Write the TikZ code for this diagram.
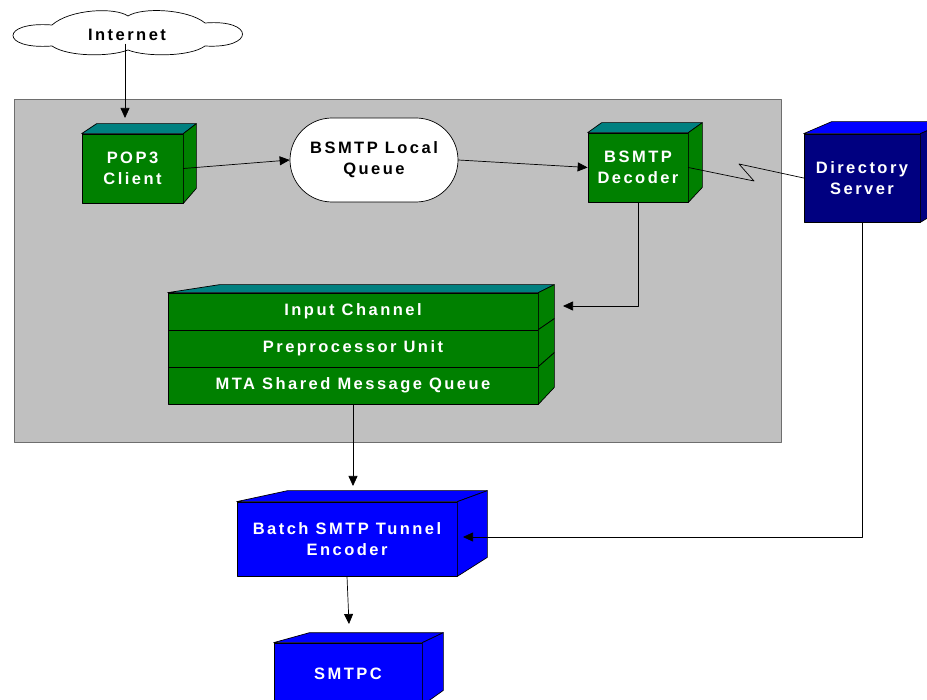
\documentclass[tikz,border=0pt]{standalone}
\usepackage{fontspec}
\usetikzlibrary{arrows.meta,shapes.misc}
\newfontfamily\labfont[LetterSpace=15]{Liberation Sans}
\definecolor{dgreen}{RGB}{0,128,0}
\definecolor{tealtop}{RGB}{0,128,128}
\definecolor{navy}{RGB}{0,0,128}
\definecolor{pureblue}{RGB}{0,0,255}
\definecolor{panelgray}{RGB}{192,192,192}
\definecolor{paneledge}{RGB}{110,110,110}
\tikzset{
	front/.style={draw=black,line width=0.7pt,inner sep=0pt,align=center,text=white,
		font=\labfont\bfseries\fontsize{16.5}{21}\selectfont},
	face/.style={draw=black,line width=0.7pt},
	arr/.style={-{Triangle[length=10pt,width=9pt]},line width=0.7pt}
}
\begin{document}
\begin{tikzpicture}[x=1pt,y=-1pt,line join=round,line cap=round]
	\useasboundingbox (0,0) rectangle (927,700);
	\clip (0,0) rectangle (927,700);
	%Vùng xám
	\draw[fill=panelgray,draw=paneledge,line width=0.7pt] (14,99) rectangle (781,442);
	%Đám mây
	\draw[fill=white,line width=0.7pt] (52,25) .. controls (70,9) and (115,7) .. (128,16)
		.. controls (142,7) and (188,9) .. (205,23)
		.. controls (255,19) and (255,49) .. (205,46)
		.. controls (190,57) and (145,57) .. (128,50)
		.. controls (110,57) and (68,57) .. (52,46)
		.. controls (0,50) and (0,21) .. (52,25) -- cycle;
	\node[font=\labfont\bfseries\fontsize{16.5}{21}\selectfont] (inet) at (127,35) {Internet};
	%POP3 Client
	\node[front,fill=dgreen,minimum width=101pt,minimum height=69pt] (pop) at (132.5,168.5) {POP3\\Client};
	\path (pop.north west)++(15,-10) coordinate (pop1)
	(pop.north east)++(13,-10) coordinate (pop2)
	(pop.south east)++(13,-15) coordinate (pop3);
	\draw[face,fill=tealtop] (pop.north west)--(pop1)--(pop2)--(pop.north east)--cycle;
	\draw[face,fill=dgreen] (pop.north east)--(pop2)--(pop3)--(pop.south east)--cycle;
	%BSMTP Local Queue
	\node[draw=black,line width=0.7pt,fill=white,rounded rectangle,inner sep=0pt,minimum width=168pt,
		minimum height=84pt,align=center,font=\labfont\bfseries\fontsize{16.5}{21}\selectfont] (queue) at (374,160) {BSMTP Local\\Queue};
	%BSMTP Decoder
	\node[front,fill=dgreen,minimum width=100pt,minimum height=69pt] (dec) at (638,167.5) {BSMTP\\Decoder};
	\path (dec.north west)++(14,-10) coordinate (dec1)
	(dec.north east)++(14,-10) coordinate (dec2)
	(dec.south east)++(14,-15) coordinate (dec3);
	\draw[face,fill=tealtop] (dec.north west)--(dec1)--(dec2)--(dec.north east)--cycle;
	\draw[face,fill=dgreen] (dec.north east)--(dec2)--(dec3)--(dec.south east)--cycle;
	%Directory Server
	\node[front,fill=navy,minimum width=116pt,minimum height=88pt] (dir) at (862,178) {Directory\\Server};
	\path (dir.north west)++(28,-12) coordinate (dir1)
	(dir.north east)++(28,-12) coordinate (dir2)
	(dir.south east)++(28,-17) coordinate (dir3);
	\draw[face,fill=pureblue] (dir.north west)--(dir1)--(dir2)--(dir.north east)--cycle;
	\draw[face,fill=navy] (dir.north east)--(dir2)--(dir3)--(dir.south east)--cycle;
	%Khối ba tầng
	\node[front,fill=dgreen,minimum width=370pt,minimum height=37pt] (inch) at (353,311.5) {Input Channel};
	\node[front,fill=dgreen,minimum width=370pt,minimum height=37pt] (prep) at (353,348.5) {Preprocessor Unit};
	\node[front,fill=dgreen,minimum width=370pt,minimum height=37pt] (mtaq) at (353,385.5) {MTA Shared Message Queue};
	\path (inch.north west)++(52,-8) coordinate (t0)
	(inch.north east)++(16,-8) coordinate (s0)
	(prep.north east)++(16,-11) coordinate (s1)
	(mtaq.north east)++(16,-14) coordinate (s2)
	(mtaq.south east)++(16,-17) coordinate (s3);
	\draw[face,fill=tealtop] (inch.north west)--(t0)--(s0)--(inch.north east)--cycle;
	\draw[face,fill=dgreen] (inch.north east)--(s0)--(s1)--(prep.north east)--cycle;
	\draw[face,fill=dgreen] (prep.north east)--(s1)--(s2)--(mtaq.north east)--cycle;
	\draw[face,fill=dgreen] (mtaq.north east)--(s2)--(s3)--(mtaq.south east)--cycle;
	%Batch SMTP Tunnel Encoder
	\node[front,fill=pureblue,minimum width=220pt,minimum height=74pt] (enc) at (347,539) {Batch SMTP Tunnel\\Encoder};
	\path (enc.north west)++(51,-11) coordinate (enc1)
	(enc.north east)++(30,-11) coordinate (enc2)
	(enc.south east)++(30,-19) coordinate (enc3);
	\draw[face,fill=pureblue] (enc.north west)--(enc1)--(enc2)--(enc.north east)--cycle;
	\draw[face,fill=pureblue] (enc.north east)--(enc2)--(enc3)--(enc.south east)--cycle;
	%SMTPC
	\node[front,fill=pureblue,minimum width=148pt,minimum height=62pt] (smtpc) at (348,674) {SMTPC};
	\path (smtpc.north west)++(36,-10) coordinate (sm1)
	(smtpc.north east)++(21,-10) coordinate (sm2)
	(smtpc.south east)++(21,-15) coordinate (sm3);
	\draw[face,fill=pureblue] (smtpc.north west)--(sm1)--(sm2)--(smtpc.north east)--cycle;
	\draw[face,fill=pureblue] (smtpc.north east)--(sm2)--(sm3)--(smtpc.south east)--cycle;
	%Mũi tên
	\coordinate (popin) at (125,118);
	\coordinate (mtain) at (563,306);
	\coordinate (encin) at (353,486);
	\coordinate (encside) at (463,537);
	\coordinate (smtpcin) at (349,624);
	\draw[arr] (inet.south -| popin) -- (popin);
	\draw[arr] (pop.east) -- (queue.west);
	\draw[arr] (queue.east) -- (dec.west);
	\draw[arr] (dec.south) |- (mtain);
	\draw[arr] (mtaq.south) -- (encin);
	\draw[arr] (dir.south) |- (encside);
	\draw[arr] (enc.south) -- (smtpcin);
	\draw[line width=0.7pt] (dec.east) -- (754,181) -- (739,164) -- (dir.west);
\end{tikzpicture}
\end{document}
